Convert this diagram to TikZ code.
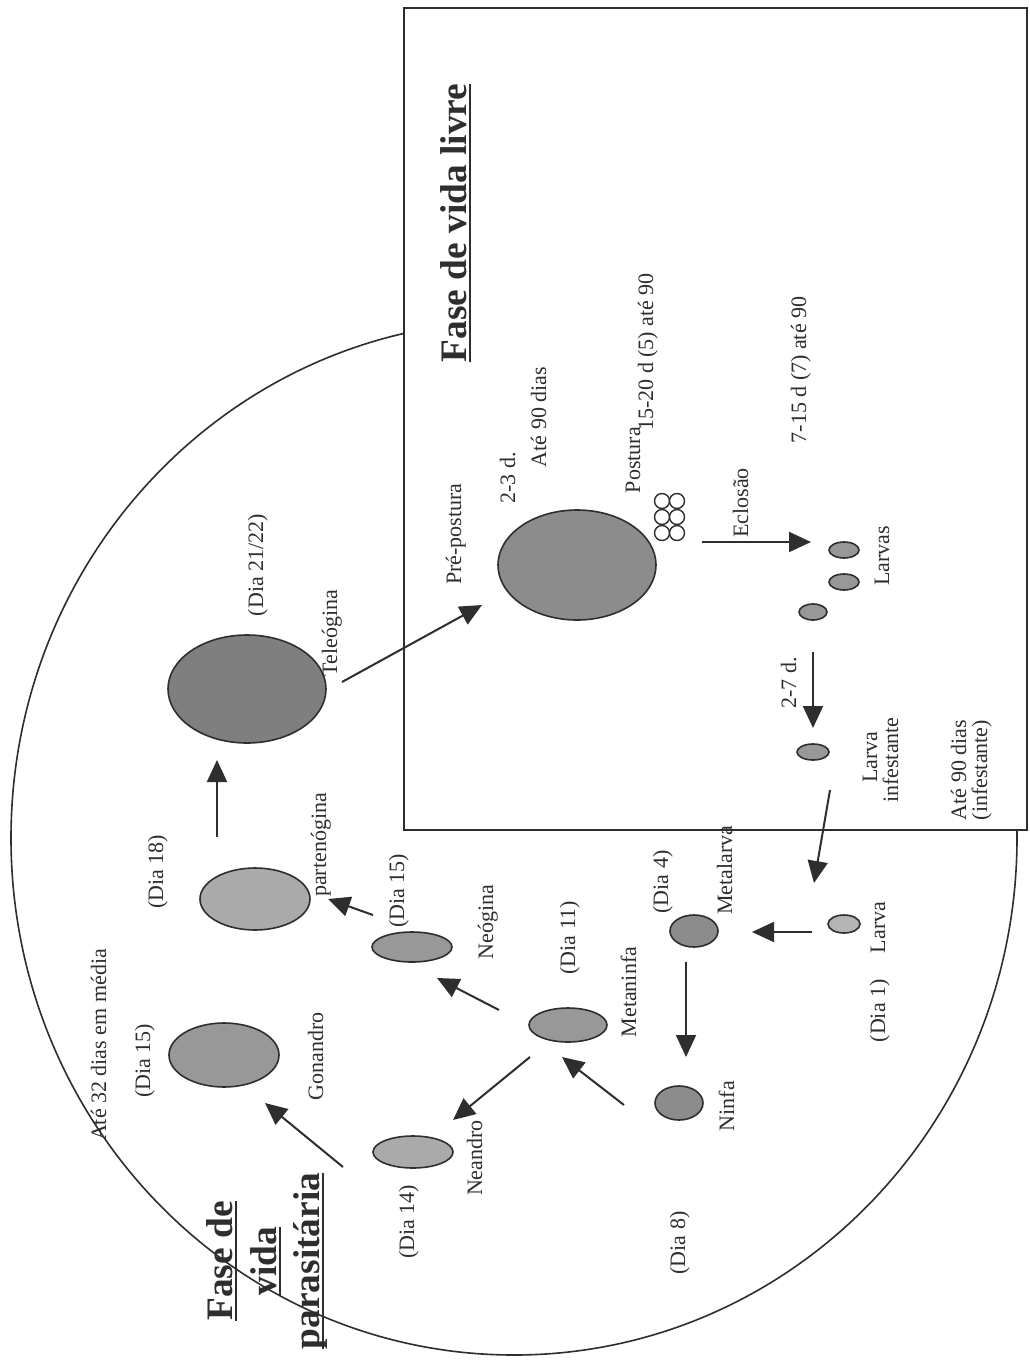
\documentclass[tikz,border=0pt]{standalone}
\usepackage{fontspec}
\setmainfont{Liberation Serif}
\usetikzlibrary{shapes.geometric,arrows.meta,calc}
\newcommand{\ulx}[1]{\setbox0=\hbox{#1}\rlap{\rule[-2.4pt]{\wd0}{0.9pt}}\box0}
\definecolor{ink}{HTML}{2E2E2E}
\definecolor{gdark}{HTML}{7F7F7F}
\definecolor{gpre}{HTML}{8C8C8C}
\definecolor{gmid}{HTML}{989898}
\definecolor{glight}{HTML}{AAAAAA}
\definecolor{gpale}{HTML}{B4B4B4}
\begin{document}
\begin{tikzpicture}[x=0.5pt,y=-0.5pt,
  lbl/.style={rotate=90, anchor=base, inner sep=0pt, text=ink, font=\fontsize{11}{13}\selectfont},
  ttl/.style={rotate=90, anchor=base, inner sep=0pt, text=ink, font=\fontsize{18.7}{22}\selectfont\bfseries},
  blob/.style={ellipse, draw=ink, line width=0.8pt, inner sep=0pt},
  egg/.style={circle, draw=ink, line width=0.7pt, fill=white, inner sep=0pt, minimum size=7.5pt},
  arr/.style={draw=ink, line width=1pt, -{Triangle[length=11pt,width=10pt]}}]

\useasboundingbox (0,0) rectangle (1029,1360);
\fill[white] (0,0) rectangle (1029,1360);

% parasitic phase outline
\draw[ink, line width=0.8pt] (514,838) ellipse [x radius=251.5pt, y radius=258.5pt];
% free-living phase box
\draw[ink, line width=1pt, fill=white] (404,8) rectangle (1027,830);

% ---- stages ----
\node[blob, fill=gpre,  minimum width=79pt, minimum height=55pt] (pre) at (577,565) {};
\node[egg] (egg1) at (662,501) {};
\node[egg] (egg2) at (677,501) {};
\node[egg] (egg3) at (662,517) {};
\node[egg] (egg4) at (677,517) {};
\node[egg] (egg5) at (662,533) {};
\node[egg] (egg6) at (677,533) {};
\node[blob, fill=gmid, minimum width=15pt, minimum height=8pt] (lv1) at (844,550) {};
\node[blob, fill=gmid, minimum width=15pt, minimum height=8pt] (lv2) at (844,582) {};
\node[blob, fill=gmid, minimum width=14pt, minimum height=8pt] (lv3) at (813,612) {};
\node[blob, fill=gmid, minimum width=16pt, minimum height=8pt] (linf) at (813,752) {};
\node[blob, fill=gpale, minimum width=16pt, minimum height=9pt] (larva1) at (844,924) {};
\node[blob, fill=gpre, minimum width=24pt, minimum height=16pt] (metalarva) at (694,931) {};
\node[blob, fill=gpre, minimum width=24pt, minimum height=17pt] (ninfa) at (679,1103) {};
\node[blob, fill=gmid, minimum width=39pt, minimum height=17pt] (metaninfa) at (568,1025) {};
\node[blob, fill=gmid, minimum width=40pt, minimum height=15pt] (neogina) at (412,947) {};
\node[blob, fill=glight, minimum width=40pt, minimum height=16pt] (neandro) at (413,1152) {};
\node[blob, fill=gmid, minimum width=55pt, minimum height=32pt] (gonandro) at (224,1055) {};
\node[blob, fill=glight, minimum width=55pt, minimum height=31pt] (parteno) at (255,899) {};
\node[blob, fill=gdark, minimum width=79pt, minimum height=54pt] (teleo) at (247,689) {};

% ---- arrows ----
\draw[arr] ($(teleo)+(95,-7)$) -- ($(pre)+(-95,40)$);
\draw[arr] ($(parteno)+(-38,-62)$) -- ($(teleo)+(-30,71)$);
\draw[arr] ($(neogina)+(-39,-32)$) -- ($(parteno)+(73,0)$);
\draw[arr] ($(egg6)+(25,9)$) -- ($(lv1)+(-33,-8)$);
\draw[arr] ($(lv3)+(0,40)$) -- ($(linf)+(0,-24)$);
\draw[arr] ($(linf)+(17,38)$) -- ($(larva1)+(-30,-41)$);
\draw[arr] ($(larva1)+(-32,8)$) -- ($(metalarva)+(58,1)$);
\draw[arr] ($(metalarva)+(-8,31)$) -- ($(ninfa)+(7,-46)$);
\draw[arr] ($(ninfa)+(-55,2)$) -- ($(metaninfa)+(-6,32)$);
\draw[arr] ($(metaninfa)+(-69,-15)$) -- ($(neogina)+(25,31)$);
\draw[arr] ($(metaninfa)+(-38,32)$) -- ($(neandro)+(40,-32)$);
\draw[arr] ($(neandro)+(-70,15)$) -- ($(gonandro)+(41,48)$);

% ---- titles ----
\node[ttl] (tlivre) at (466,223) {\ulx{Fase de vida livre}};
\node[ttl] (tpar1) at (232,1261) {\ulx{Fase de}};
\node[ttl] (tpar2) at (276,1261) {\ulx{vida}};
\node[ttl] (tpar3) at (319,1261) {\ulx{parasitária}};

% ---- labels ----
\node[lbl] (lpre)   at (461,534) {Pré-postura};
\node[lbl] (l23)    at (515,478) {2-3 d.};
\node[lbl] (l90a)   at (546,417) {Até 90 dias};
\node[lbl] (lpost)  at (640,460) {Postura};
\node[lbl] (l1520)  at (653,352) {15-20 d (5) até 90};
\node[lbl] (lecl)   at (748,503) {Eclosão};
\node[lbl] (l715)   at (806,370) {7-15 d (7) até 90};
\node[lbl] (llarvas) at (889,556) {Larvas};
\node[lbl] (l27)    at (796,683) {2-7 d.};
\node[lbl] (llinf1) at (877,757) {Larva};
\node[lbl] (llinf2) at (898,760) {infestante};
\node[lbl] (l90b1)  at (966,770) {Até 90 dias};
\node[lbl] (l90b2)  at (987,770) {(infestante)};
\node[lbl] (ld21)   at (263,565) {(Dia 21/22)};
\node[lbl] (ltel)   at (337,633) {Teleógina};
\node[lbl] (ld18)   at (163,872) {(Dia 18)};
\node[lbl] (lpart)  at (326,845) {partenógina};
\node[lbl] (ld15n)  at (404,891) {(Dia 15)};
\node[lbl] (lneo)   at (493,922) {Neógina};
\node[lbl] (ld11)   at (575,938) {(Dia 11)};
\node[lbl] (lmetan) at (636,992) {Metaninfa};
\node[lbl] (ld4)    at (668,882) {(Dia 4)};
\node[lbl] (lmetal) at (732,870) {Metalarva};
\node[lbl] (llarva) at (885,972) {(Dia 1)\hspace{1.2em}Larva};
\node[lbl] (lninfa) at (734,1106) {Ninfa};
\node[lbl] (ld8)    at (685,1243) {(Dia 8)};
\node[lbl] (lnean)  at (482,1158) {Neandro};
\node[lbl] (ld14)   at (414,1222) {(Dia 14)};
\node[lbl] (lgon)   at (323,1056) {Gonandro};
\node[lbl] (ld15g)  at (150,1061) {(Dia 15)};
\node[lbl] (l32)    at (106,1045) {Até 32 dias em média};
\end{tikzpicture}
\end{document}
